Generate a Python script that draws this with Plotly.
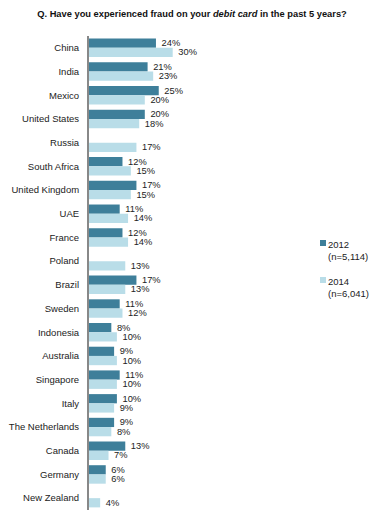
import plotly.graph_objects as go

countries = ["China", "India", "Mexico", "United States", "Russia", "South Africa",
             "United Kingdom", "UAE", "France", "Poland", "Brazil", "Sweden",
             "Indonesia", "Australia", "Singapore", "Italy", "The Netherlands",
             "Canada", "Germany", "New Zealand"]
v2012 = [24, 21, 25, 20, None, 12, 17, 11, 12, None, 17, 11, 8, 9, 11, 10, 9, 13, 6, None]
v2014 = [30, 23, 20, 18, 17, 15, 15, 14, 14, 13, 13, 12, 10, 10, 10, 9, 8, 7, 6, 4]
series_names = ["2012", "2014"]
series_notes = ["(n=5,114)", "(n=6,041)"]

DARK = "#3e7f9a"
LIGHT = "#b9dde8"
FONT = "Liberation Sans, Arial, sans-serif"

W, H = 384, 522
ML, MR, MT, MB = 89, 10, 36, 12
PW = W - ML - MR
PH = H - MT - MB
PX_PER_PCT = 2.79


def px2x(px):
    return (px - ML) / PW


def px2y(py):
    return 1 - (py - MT) / PH


fig = go.Figure()
for name, vals, col in [(series_names[0], v2012, DARK), (series_names[1], v2014, LIGHT)]:
    fig.add_trace(go.Bar(
        y=countries, x=vals, orientation="h", name=name,
        marker=dict(color=col, line=dict(width=0)),
        text=[None if v is None else "\u00a0%d%%" % v for v in vals],
        textposition="outside", cliponaxis=False, constraintext="none",
        textfont=dict(family=FONT, size=9.3, color="#222222"),
        showlegend=False,
        hoverinfo="x+y+name",
    ))

fig.update_layout(
    width=W, height=H,
    margin=dict(l=ML, r=MR, t=MT, b=MB, pad=0, autoexpand=False),
    paper_bgcolor="white", plot_bgcolor="white",
    barmode="group", bargap=0.22, bargroupgap=0,
    font=dict(family=FONT, size=9.5, color="#222222"),
    title=dict(
        text="<b>Q. Have you experienced fraud on your <i>debit card</i> in the past 5 years?</b>",
        x=0.5, xref="container", xanchor="center",
        y=1 - 14 / H, yref="container", yanchor="middle",
        font=dict(family=FONT, size=9.3, color="#111111"),
    ),
    xaxis=dict(visible=False, range=[0, PW / PX_PER_PCT], fixedrange=True, automargin=False),
    yaxis=dict(
        type="category", range=[len(countries) - 0.5, -0.5],
        showline=True, linecolor="#888888", linewidth=2,
        showgrid=False, zeroline=False, ticks="",
        ticklabelstandoff=6, automargin=False,
        tickfont=dict(family=FONT, size=9.5, color="#222222"),
    ),
)

# legend keys
leg_tops = [240, 277]
for i, (top, col) in enumerate(zip(leg_tops, [DARK, LIGHT])):
    fig.add_shape(type="rect", xref="paper", yref="paper",
                  x0=px2x(320), x1=px2x(326), y0=px2y(top), y1=px2y(top + 6),
                  fillcolor=col, line=dict(width=0))
    fig.add_annotation(xref="paper", yref="paper", x=px2x(326), y=px2y(top - 3),
                       xanchor="left", yanchor="top", align="left", showarrow=False,
                       text=series_names[i] + "<br>" + series_notes[i],
                       font=dict(family=FONT, size=9.5, color="#222222"))

fig.write_html(
    "out.html",
    config={"displayModeBar": False},
    post_script="document.body.style.margin='0';document.body.style.overflow='hidden';",
)
